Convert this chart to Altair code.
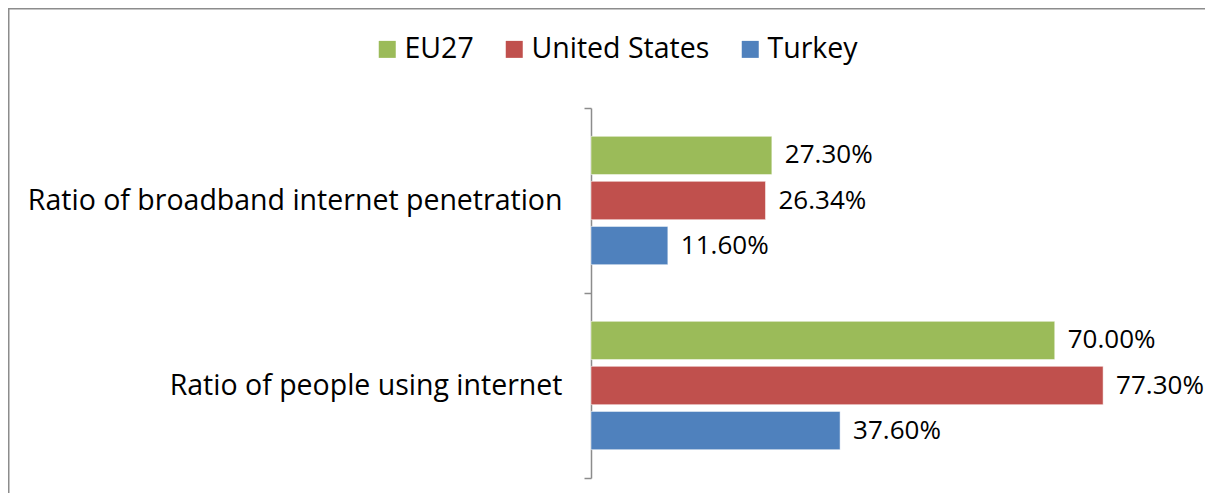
import altair as alt
import pandas as pd

categories = ["Ratio of broadband internet penetration", "Ratio of people using internet"]
series = ["EU27", "United States", "Turkey"]
colors = ["#9BBB59", "#C0504D", "#4F81BD"]
broadband = [0.273, 0.2634, 0.116]
internet_use = [0.700, 0.773, 0.376]

rows = []
for s, v in zip(series, broadband):
    rows.append({"category": categories[0], "series": s, "value": v})
for s, v in zip(series, internet_use):
    rows.append({"category": categories[1], "series": s, "value": v})
df = pd.DataFrame(rows)

FONT = "Open Sans"
W, H = 530, 370

base = alt.Chart(df).encode(
    y=alt.Y(
        "category:N",
        sort=categories,
        scale=alt.Scale(paddingInner=0, paddingOuter=0),
        axis=alt.Axis(
            title=None,
            tickBand="extent",
            tickSize=7,
            tickColor="#8c8c8c",
            domainColor="#8c8c8c",
            domainWidth=1.5,
            tickWidth=1.5,
            labelPadding=22,
            labelFont=FONT,
            labelFontSize=28.5,
            labelColor="#000000",
            labelLimit=0,
            grid=False,
        ),
    ),
    yOffset=alt.YOffset(
        "series:N", sort=series, scale=alt.Scale(paddingInner=0.15, paddingOuter=0.63)
    ),
    x=alt.X("value:Q", scale=alt.Scale(domain=[0, 0.8]), axis=None),
)

bars = base.mark_bar(stroke="#ffffff", strokeOpacity=0.5, strokeWidth=1).encode(
    color=alt.Color(
        "series:N",
        sort=series,
        scale=alt.Scale(domain=series, range=colors),
        legend=alt.Legend(
            title=None,
            orient="none",
            direction="horizontal",
            legendX=-218,
            legendY=-73,
            symbolType="square",
            symbolSize=289,
            symbolStrokeWidth=0,
            labelFont=FONT,
            labelFontSize=28.5,
            labelColor="#000000",
            labelOffset=3,
            columnPadding=26,
            labelLimit=0,
        ),
    )
)

labels = base.mark_text(
    align="left", baseline="middle", dx=13, font=FONT, fontSize=26, color="#000000"
).encode(text=alt.Text("value:Q", format=".2%"))

frame = alt.Chart(alt.Data(values=[{"a": 1}])).mark_rect(
    fill=None, stroke="#8c8c8c", strokeWidth=3
).encode(
    x=alt.value(-583), x2=alt.value(900), y=alt.value(-100), y2=alt.value(600)
)

chart = (
    alt.layer(frame, bars, labels)
    .properties(
        width=W,
        height=H,
        autosize="none",
        padding={"left": 583, "top": 100, "right": 84, "bottom": 15},
        background="#ffffff",
    )
    .configure_view(strokeWidth=0, stroke="transparent")
)

chart.save("out.html", embed_options={"renderer": "svg", "actions": False})
